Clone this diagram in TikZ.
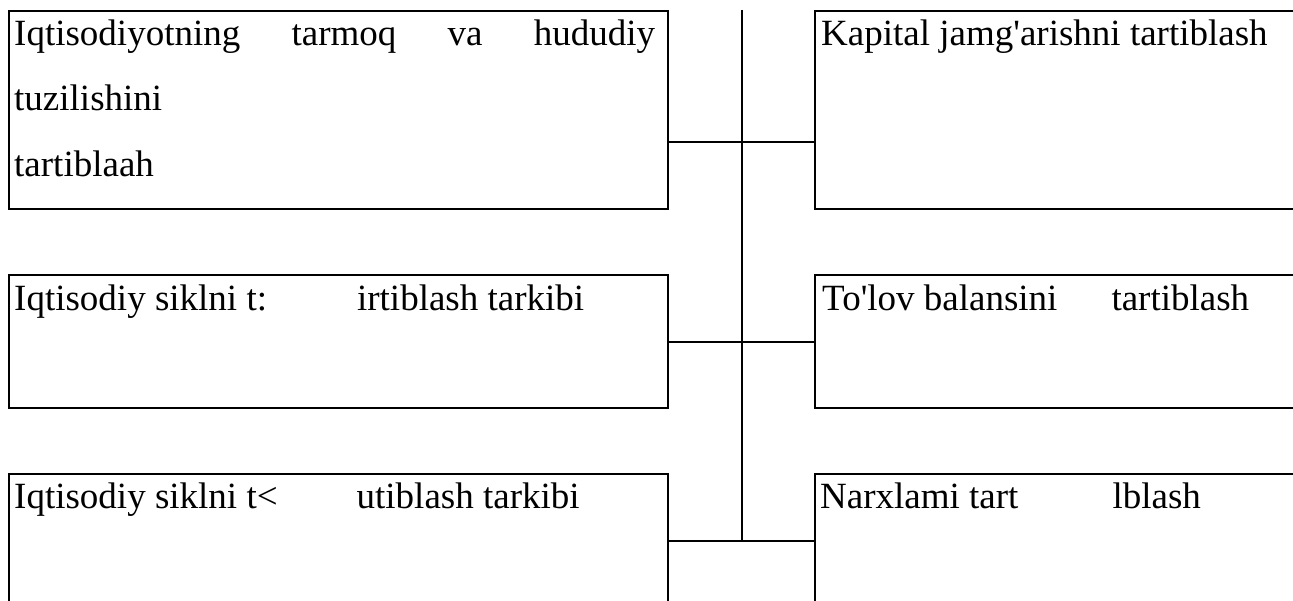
\documentclass[tikz,border=0pt]{standalone}
\usepackage{fontspec}
\setmainfont{Liberation Serif}[Ligatures=TeXOff]
\usetikzlibrary{positioning,calc}

\tikzset{
  box/.style={draw, line width=2pt, inner sep=0pt, outer sep=0pt, minimum width=659pt},
  rbox/.style={draw, line width=2pt, inner sep=0pt, outer sep=0pt, minimum width=500pt},
  lbl/.style={inner sep=0pt, anchor=base west, font=\fontsize{37}{65.5}\selectfont, align=left},
  link/.style={line width=2pt}
}

\begin{document}
\begin{tikzpicture}[x=1pt,y=-1pt]
    \path[use as bounding box, clip] (0,0) rectangle (1293,600);

    % left column
    \node[box, minimum height=198pt] (l1) at (338.5,110) {};
    \node[box, minimum height=133pt, below=66pt of l1] (l2) {};
    \node[box, minimum height=133pt, below=66pt of l2] (l3) {};

    % right column
    \node[rbox, minimum height=198pt, right=147pt of l1] (r1) {};
    \node[rbox, minimum height=133pt, right=147pt of l2] (r2) {};
    \node[rbox, minimum height=133pt, right=147pt of l3] (r3) {};

    % texts
    \node[lbl, text width=644pt] (t1) at ([xshift=5pt,yshift=-34pt]l1.north west)
        {\makebox[641pt][s]{Iqtisodiyotning\hfill tarmoq\hfill va\hfill hududiy}\\ tuzilishini\\ tartiblaah};
    \node[lbl] (t2) at ([xshift=5pt,yshift=-35pt]l2.north west)
        {Iqtisodiy siklni t:\hspace{90pt}irtiblash tarkibi};
    \node[lbl] (t3) at ([xshift=5pt,yshift=-34pt]l3.north west)
        {Iqtisodiy siklni t<\hspace{79pt}utiblash tarkibi};
    \node[lbl] (s1) at ([xshift=6pt,yshift=-34pt]r1.north west)
        {Kapital jamg'arishni tartiblash};
    \node[lbl] (s2) at ([xshift=7pt,yshift=-35pt]r2.north west)
        {To'lov balansini\hspace{54pt}tartiblash};
    \node[lbl] (s3) at ([xshift=5pt,yshift=-34pt]r3.north west)
        {Narxlami tart\hspace{94pt}lblash};

    % connectors
    \coordinate (top) at ($(l1.north east)!.5!(r1.north west)$);
    \draw[link] ($(l1.north east)!.66!(l1.south east)$) -- ($(r1.north west)!.66!(r1.south west)$);
    \draw[link] (l2.east) -- (r2.west);
    \draw[link] (l3.east) -- (r3.west);
    \draw[link] ([yshift=1pt]top) -- (top |- l3.east);
\end{tikzpicture}
\end{document}
